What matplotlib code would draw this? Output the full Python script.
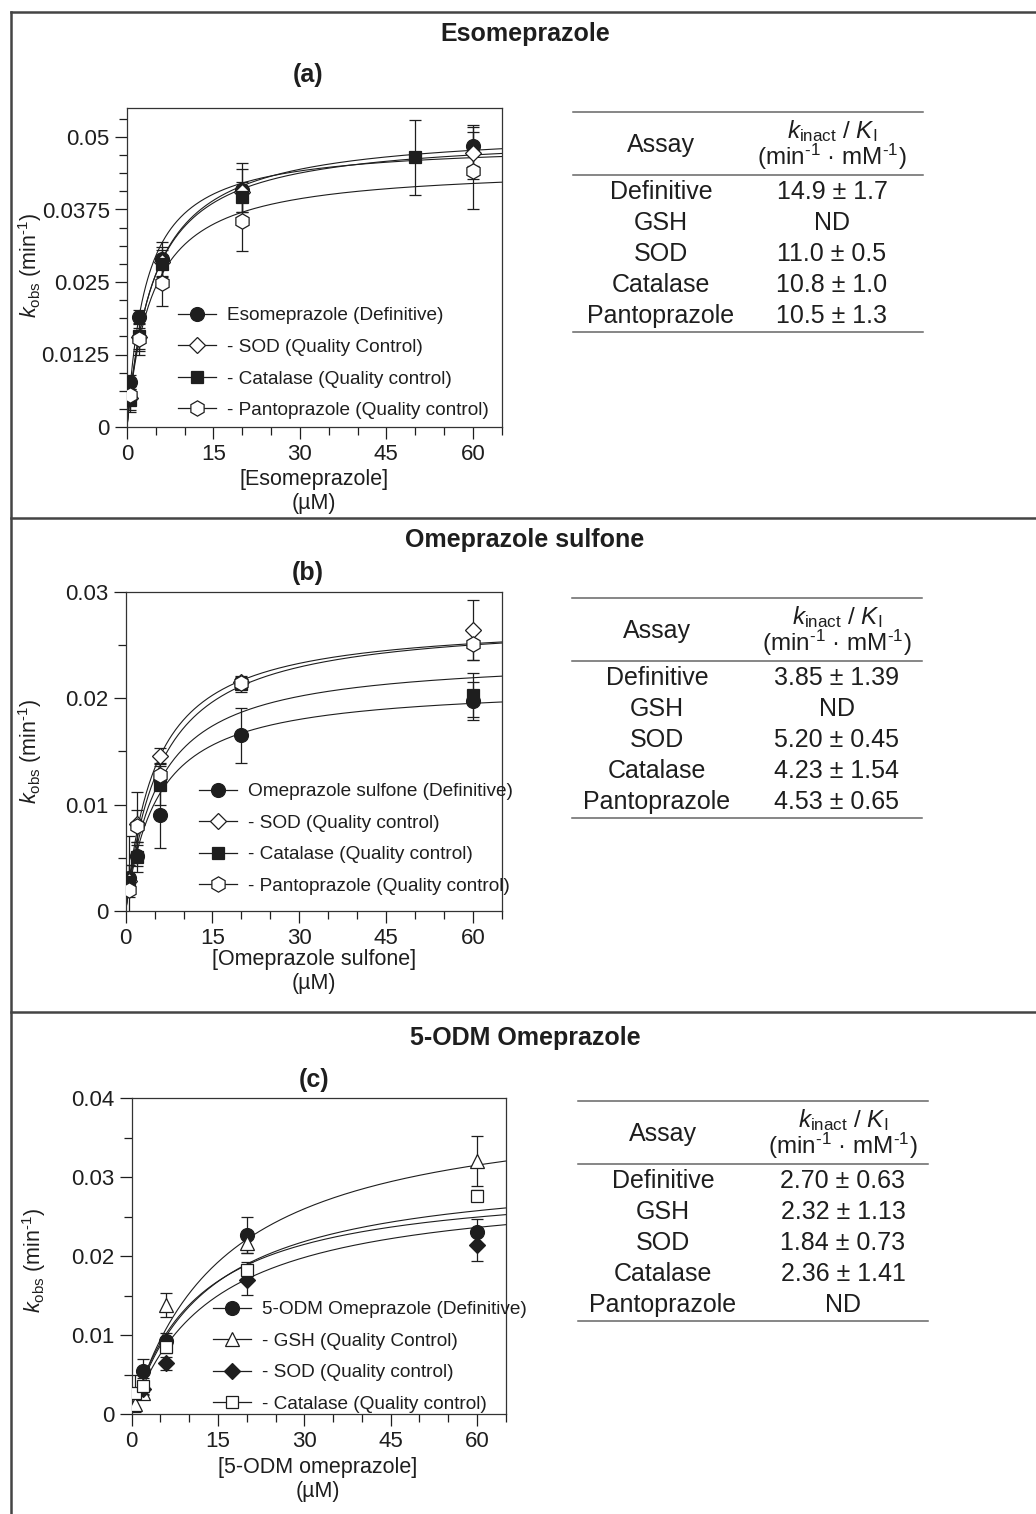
import numpy as np
import matplotlib
matplotlib.use('Agg')
import matplotlib.pyplot as plt
from matplotlib.lines import Line2D

plt.rcParams['font.family'] = ['Liberation Sans', 'DejaVu Sans']
plt.rcParams['mathtext.fontset'] = 'custom'
plt.rcParams['mathtext.rm'] = 'Liberation Sans'
plt.rcParams['mathtext.it'] = 'Liberation Sans:italic'
plt.rcParams['mathtext.bf'] = 'Liberation Sans:bold'

INK = '#1e1e1e'

# ---- panel (a) Esomeprazole ----
conc_a_def = [0.5, 2, 6, 20, 60]
kobs_a_def = [0.0078, 0.0190, 0.0289, 0.0408, 0.0485]
err_a_def = [0.0012, 0.0012, 0.0030, 0.0037, 0.0035]
conc_a_sod = [0.5, 2, 6, 20, 60]
kobs_a_sod = [0.0050, 0.0155, 0.0285, 0.0405, 0.0473]
err_a_sod = [0.0020, 0.0030, 0.0025, 0.0050, 0.0045]
conc_a_cat = [0.5, 2, 6, 20, 50]
kobs_a_cat = [0.0046, 0.0157, 0.0281, 0.0396, 0.0465]
err_a_cat = [0.0020, 0.0023, 0.0025, 0.0026, 0.0065]
conc_a_pan = [0.5, 2, 6, 20, 60]
kobs_a_pan = [0.0055, 0.0151, 0.0249, 0.0356, 0.0442]
err_a_pan = [0.0015, 0.0020, 0.0040, 0.0052, 0.0066]
# fitted hyperbola parameters (kinact, KI in uM): def, sod, cat, pan
kinact_a = [0.0490, 0.0505, 0.0515, 0.0450]
ki_a = [3.3, 4.6, 4.77, 4.3]
legend_a = ['Esomeprazole (Definitive)', '- SOD (Quality Control)',
            '- Catalase (Quality control)', '- Pantoprazole (Quality control)']

# ---- panel (b) Omeprazole sulfone ----
conc_b = [0.5, 2, 6, 20, 60]
kobs_b_def = [0.0031, 0.0052, 0.0090, 0.0165, 0.0197]
err_b_def = [0.0012, 0.0010, 0.0031, 0.0026, 0.0018]
kobs_b_sod = [0.0028, 0.0082, 0.0146, 0.0215, 0.0264]
err_b_sod = [0.0015, 0.0030, 0.0007, 0.0006, 0.0028]
kobs_b_cat = [0.0027, 0.0051, 0.0118, 0.0213, 0.0203]
err_b_cat = [0.0010, 0.0014, 0.0018, 0.0007, 0.0021]
kobs_b_pan = [0.0020, 0.0080, 0.0128, 0.0214, 0.0251]
err_b_pan = [0.0050, 0.0015, 0.0010, 0.0004, 0.0015]
kinact_b = [0.0213, 0.0273, 0.0240, 0.0275]
ki_b = [5.5, 5.2, 5.7, 6.0]
legend_b = ['Omeprazole sulfone (Definitive)', '- SOD (Quality control)',
            '- Catalase (Quality control)', '- Pantoprazole (Quality control)']

# ---- panel (c) 5-ODM omeprazole ----
conc_c_def = [2, 6, 20, 60]
kobs_c_def = [0.0054, 0.0092, 0.0227, 0.0230]
err_c_def = [0.0015, 0.0010, 0.0023, 0.0017]
conc_c_gsh = [0.5, 2, 6, 20, 60]
kobs_c_gsh = [0.0013, 0.0026, 0.0138, 0.0216, 0.0320]
err_c_gsh = [0.0010, 0.0007, 0.0015, 0.0012, 0.0032]
conc_c_sod = [2, 6, 20, 60]
kobs_c_sod = [0.0032, 0.0064, 0.0169, 0.0214]
err_c_sod = [0.0008, 0.0008, 0.0018, 0.0020]
conc_c_cat = [0.5, 2, 6, 20, 60]
kobs_c_cat = [0.0027, 0.0035, 0.0085, 0.0182, 0.0276]
err_c_cat = [0.0022, 0.0010, 0.0008, 0.0010, 0.0007]
kinact_c = [0.0297, 0.0400, 0.0292, 0.0313]
ki_c = [11.5, 16.2, 14.2, 13.0]
legend_c = ['5-ODM Omeprazole (Definitive)', '- GSH (Quality Control)',
            '- SOD (Quality control)', '- Catalase (Quality control)']

# ---- tables ----
assays = ['Definitive', 'GSH', 'SOD', 'Catalase', 'Pantoprazole']
ratio_a = ['14.9 ± 1.7', 'ND', '11.0 ± 0.5', '10.8 ± 1.0', '10.5 ± 1.3']
ratio_b = ['3.85 ± 1.39', 'ND', '5.20 ± 0.45', '4.23 ± 1.54', '4.53 ± 0.65']
ratio_c = ['2.70 ± 0.63', '2.32 ± 1.13', '1.84 ± 0.73', '2.36 ± 1.41', 'ND']

W, H = 1036, 1514
fig = plt.figure(figsize=(W / 100, H / 100), dpi=100)


def fx(px):
    return px / W


def fy(py):
    return 1 - py / H


def add_axes_px(left, top, right, bottom):
    return fig.add_axes([fx(left), fy(bottom), (right - left) / W, (bottom - top) / H])


# marker styles: (marker, face, size)
STY_CIRC = ('o', INK, 10)
STY_DIAM_O = ('D', 'white', 7.8)
STY_DIAM_F = ('D', INK, 7.8)
STY_SQ_F = ('s', INK, 9)
STY_SQ_O = ('s', 'white', 9)
STY_HEX = ('h', 'white', 11)
STY_TRI = ('^', 'white', 10.5)


def draw_panel(ax, series, kinact, ki, ymax, yticks, yticklabels, yminor, labels, leg_xy):
    xs = np.linspace(0, 65, 400)
    for k, K in zip(kinact, ki):
        ax.plot(xs, k * xs / (K + xs), color=INK, lw=0.8, zorder=1)
    handles = []
    for (x, y, e, sty) in series:
        m, fc, ms = sty
        ax.errorbar(x, y, yerr=e, fmt='none', ecolor=INK, elinewidth=0.9,
                    capsize=4.2, capthick=0.9, zorder=2)
        ax.plot(x, y, ls='none', marker=m, mfc=fc, mec=INK, mew=0.9, ms=ms, zorder=3)
        handles.append(Line2D([0], [0], color=INK, lw=0.9, marker=m, mfc=fc,
                              mec=INK, mew=0.9, ms=ms))
    ax.set_xlim(0, 65)
    ax.set_ylim(0, ymax)
    ax.set_xticks([0, 15, 30, 45, 60])
    ax.set_xticks(np.arange(0, 66, 5), minor=True)
    ax.set_yticks(yticks)
    ax.set_yticklabels(yticklabels)
    ax.set_yticks(yminor, minor=True)
    ax.tick_params(which='both', direction='out', top=False, right=False,
                   colors=INK, width=0.9, labelsize=16)
    ax.tick_params(which='major', length=8.5, pad=4)
    ax.tick_params(which='minor', length=6)
    for sp in ax.spines.values():
        sp.set_linewidth(0.9)
        sp.set_color('#333333')
    ax.legend(handles, labels, loc='upper left', bbox_to_anchor=leg_xy,
              frameon=False, fontsize=13.7, handlelength=2.0, handletextpad=0.6,
              labelspacing=0.75, borderpad=0, borderaxespad=0, labelcolor=INK)


def draw_table(top, x0, x1, col1, col2, values):
    for dy in (0, 63, 220):
        fig.add_artist(Line2D([fx(x0), fx(x1)], [fy(top + dy), fy(top + dy)],
                              color='#666666', lw=1.1))
    fig.text(fx(col1), fy(top + 33), 'Assay', ha='center', va='center', fontsize=18, color=INK)
    fig.text(fx(col2), fy(top + 19), r'$\mathit{k}_{\mathrm{inact}}$ / $\mathit{K}_{\mathrm{I}}$',
             ha='center', va='center', fontsize=17.5, color=INK)
    fig.text(fx(col2), fy(top + 45), r'(min$^{\text{-1}}$ · mM$^{\text{-1}}$)',
             ha='center', va='center', fontsize=17.5, color=INK)
    for i, (name, val) in enumerate(zip(assays, values)):
        yy = top + 80 + i * 31
        fig.text(fx(col1), fy(yy), name, ha='center', va='center', fontsize=18, color=INK)
        fig.text(fx(col2), fy(yy), val, ha='center', va='center', fontsize=18, color=INK)


# ---- frame lines ----
BORDER = '#444444'
fig.add_artist(Line2D([fx(11), 1], [fy(12), fy(12)], color=BORDER, lw=1.8))
fig.add_artist(Line2D([fx(11), fx(11)], [fy(12), 0], color=BORDER, lw=1.8))
fig.add_artist(Line2D([fx(11), 1], [fy(518), fy(518)], color=BORDER, lw=1.8))
fig.add_artist(Line2D([fx(11), 1], [fy(1012), fy(1012)], color=BORDER, lw=1.8))

ylab = r'$\mathit{k}_{\mathrm{obs}}$ (min$^{\text{-1}}$)'

# ---- panel a ----
ax_a = add_axes_px(127, 108, 501.6, 427)
draw_panel(ax_a,
           [(conc_a_def, kobs_a_def, err_a_def, STY_CIRC),
            (conc_a_sod, kobs_a_sod, err_a_sod, STY_DIAM_O),
            (conc_a_cat, kobs_a_cat, err_a_cat, STY_SQ_F),
            (conc_a_pan, kobs_a_pan, err_a_pan, STY_HEX)],
           kinact_a, ki_a, 0.055, [0, 0.0125, 0.025, 0.0375, 0.05],
           ['0', '0.0125', '0.025', '0.0375', '0.05'],
           np.arange(0, 0.0551, 0.003125), legend_a, (0.136, 0.376))
fig.text(fx(525), fy(34), 'Esomeprazole', ha='center', va='center', fontsize=18, fontweight='bold', color=INK)
fig.text(fx(308), fy(75), '(a)', ha='center', va='center', fontsize=18, fontweight='bold', color=INK)
fig.text(fx(30), fy(265), ylab, ha='center', va='center', rotation=90, fontsize=15.5, color=INK)
fig.text(fx(314), fy(480), '[Esomeprazole]', ha='center', va='center', fontsize=15.5, color=INK)
fig.text(fx(314), fy(503), '(µM)', ha='center', va='center', fontsize=15.5, color=INK)
draw_table(112, 573, 923, 661, 832, ratio_a)

# ---- panel b ----
ax_b = add_axes_px(125.7, 591.7, 501.7, 911)
draw_panel(ax_b,
           [(conc_b, kobs_b_def, err_b_def, STY_CIRC),
            (conc_b, kobs_b_sod, err_b_sod, STY_DIAM_O),
            (conc_b, kobs_b_cat, err_b_cat, STY_SQ_F),
            (conc_b, kobs_b_pan, err_b_pan, STY_HEX)],
           kinact_b, ki_b, 0.03, [0, 0.01, 0.02, 0.03],
           ['0', '0.01', '0.02', '0.03'],
           np.arange(0, 0.0301, 0.005), legend_b, (0.195, 0.401))
fig.text(fx(525), fy(540), 'Omeprazole sulfone', ha='center', va='center', fontsize=18, fontweight='bold', color=INK)
fig.text(fx(308), fy(573), '(b)', ha='center', va='center', fontsize=18, fontweight='bold', color=INK)
fig.text(fx(30), fy(751), ylab, ha='center', va='center', rotation=90, fontsize=15.5, color=INK)
fig.text(fx(314), fy(960), '[Omeprazole sulfone]', ha='center', va='center', fontsize=15.5, color=INK)
fig.text(fx(314), fy(983), '(µM)', ha='center', va='center', fontsize=15.5, color=INK)
draw_table(598, 572, 922, 657, 837, ratio_b)

# ---- panel c ----
ax_c = add_axes_px(131.7, 1098, 505.7, 1414)
draw_panel(ax_c,
           [(conc_c_def, kobs_c_def, err_c_def, STY_CIRC),
            (conc_c_gsh, kobs_c_gsh, err_c_gsh, STY_TRI),
            (conc_c_sod, kobs_c_sod, err_c_sod, STY_DIAM_F),
            (conc_c_cat, kobs_c_cat, err_c_cat, STY_SQ_O)],
           kinact_c, ki_c, 0.04, [0, 0.01, 0.02, 0.03, 0.04],
           ['0', '0.01', '0.02', '0.03', '0.04'],
           np.arange(0, 0.0401, 0.005), legend_c, (0.217, 0.358))
fig.text(fx(525), fy(1038), '5-ODM Omeprazole', ha='center', va='center', fontsize=18, fontweight='bold', color=INK)
fig.text(fx(314), fy(1080), '(c)', ha='center', va='center', fontsize=18, fontweight='bold', color=INK)
fig.text(fx(34), fy(1260), ylab, ha='center', va='center', rotation=90, fontsize=15.5, color=INK)
fig.text(fx(318), fy(1467), '[5-ODM omeprazole]', ha='center', va='center', fontsize=15.5, color=INK)
fig.text(fx(318), fy(1492), '(µM)', ha='center', va='center', fontsize=15.5, color=INK)
draw_table(1101, 578, 928, 663, 843, ratio_c)

fig.savefig('out.png', dpi=100, facecolor='white')
